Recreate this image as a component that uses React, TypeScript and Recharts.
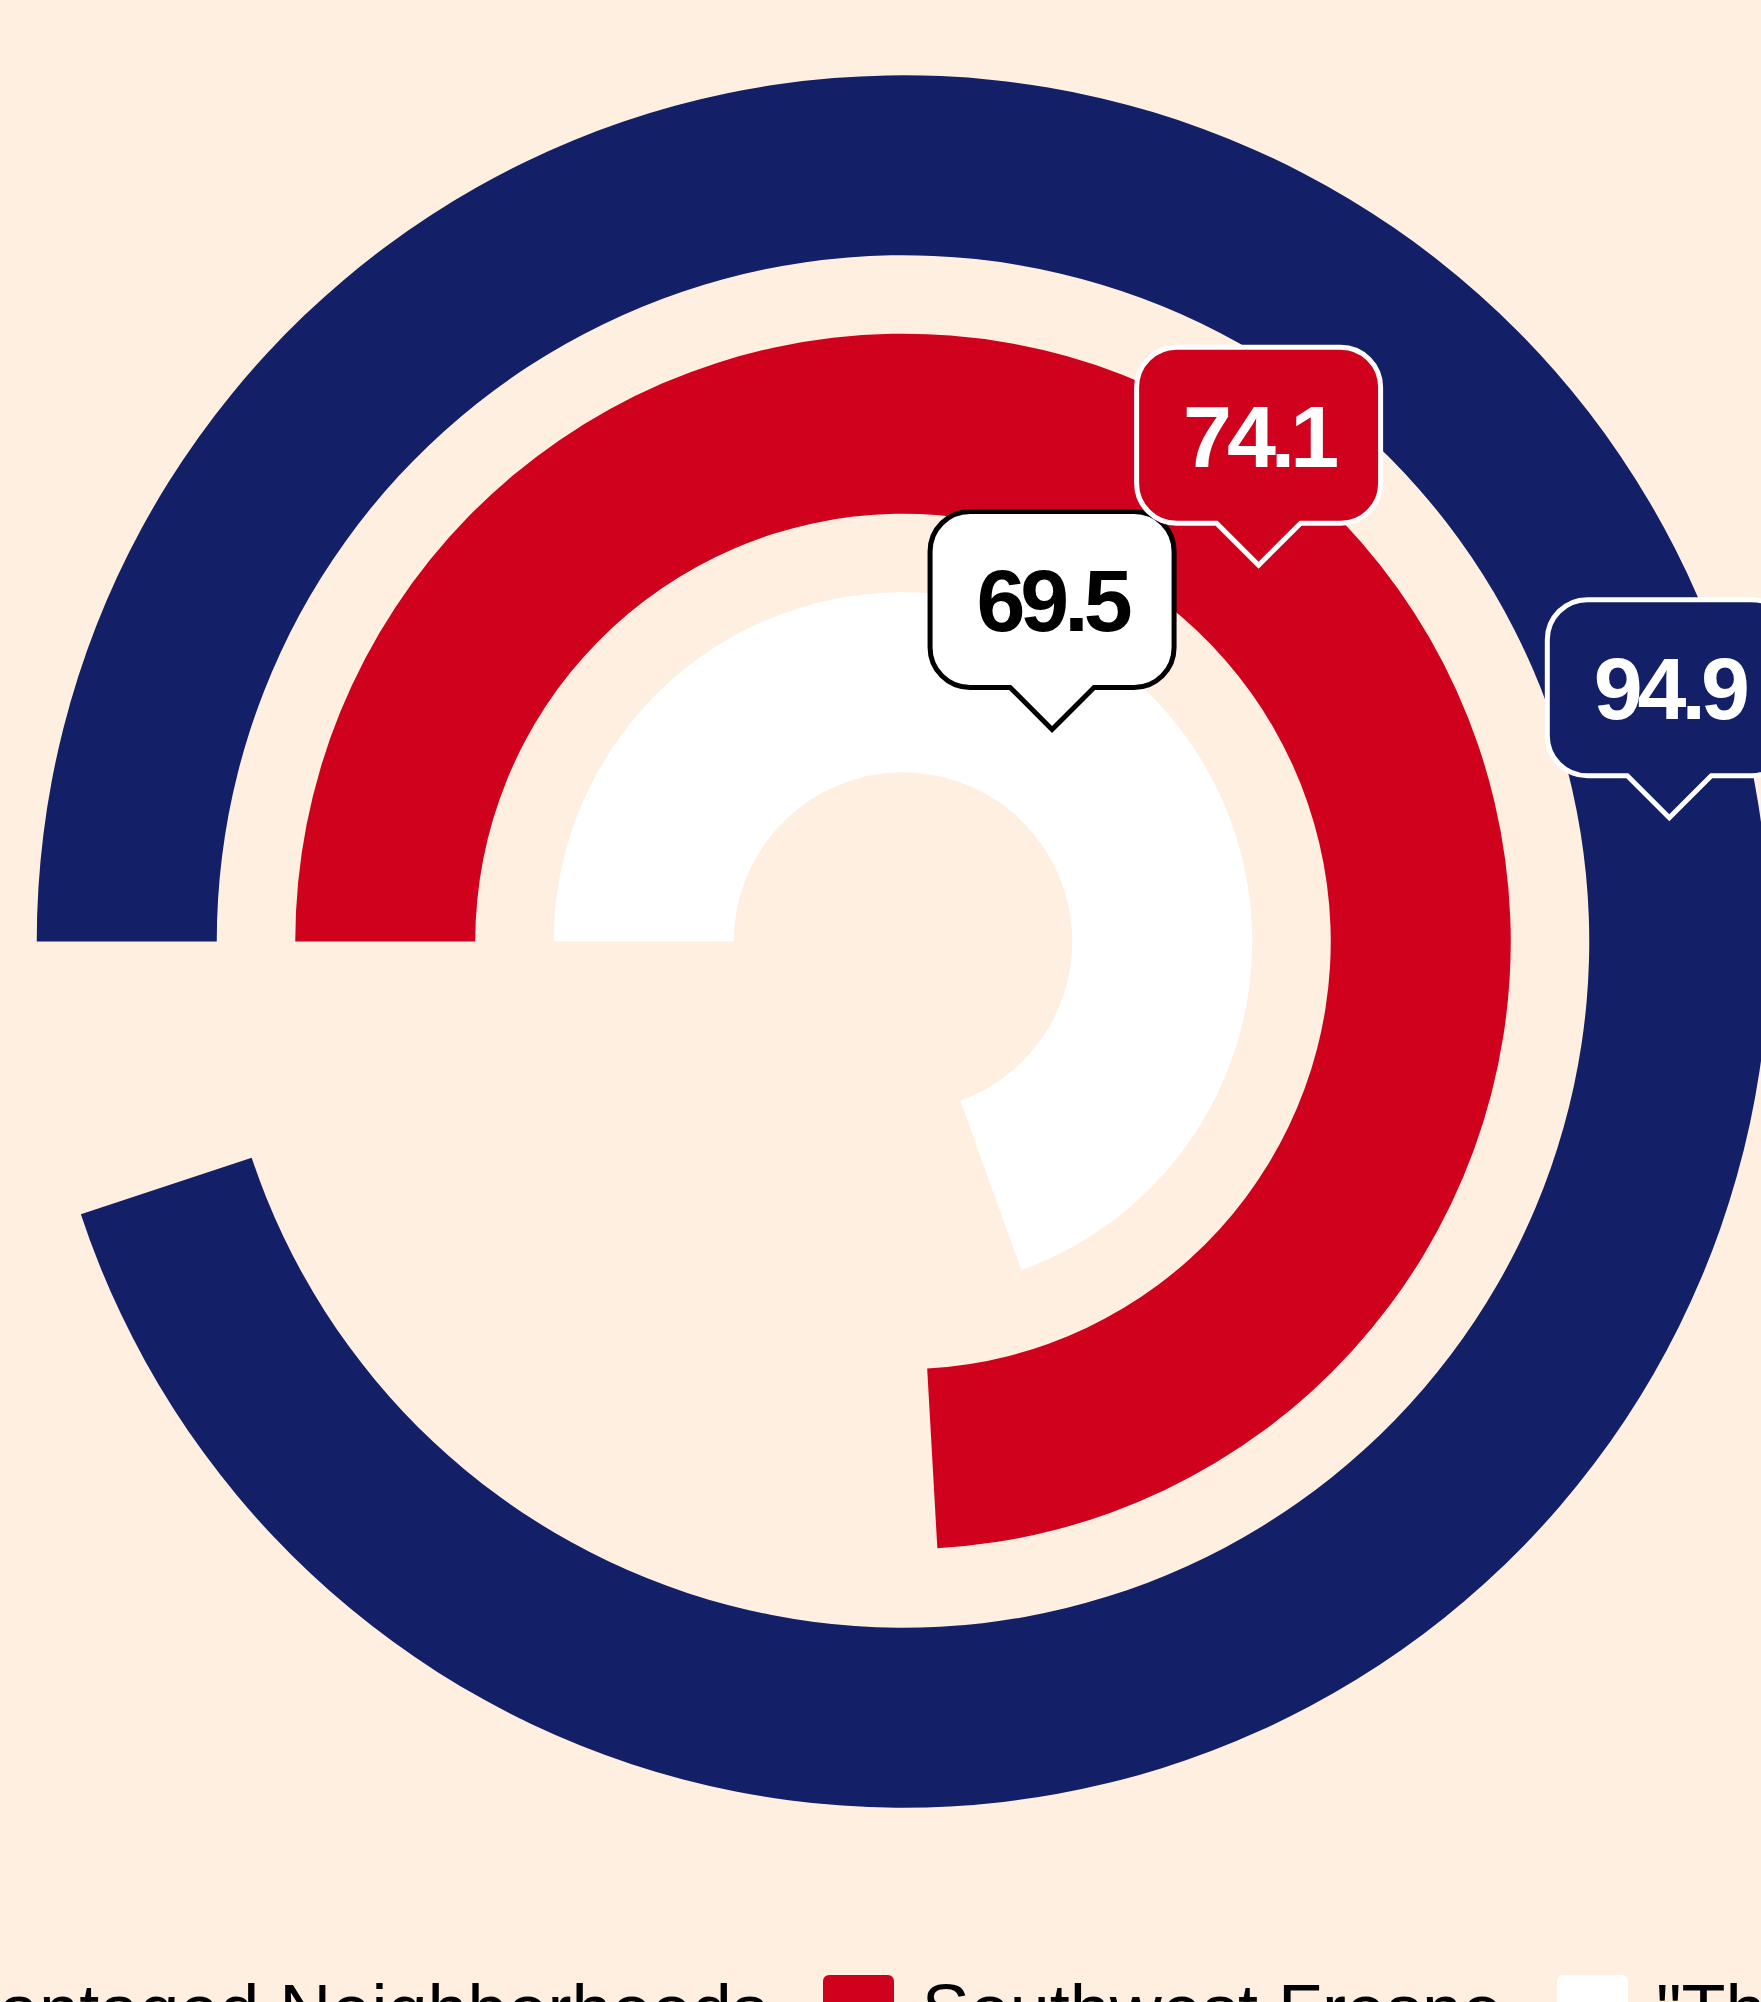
import { RadialBarChart, RadialBar, PolarAngleAxis, Legend, LabelList, Cell } from 'recharts';

// rings from the inside out
const CATEGORIES = ['"The Rest of Fresno"', 'Southwest Fresno', 'Disadvantaged Neighborhoods'];
const VALUES = [69.5, 74.1, 94.9];
const COLORS = ['#FFFFFF', '#CF011C', '#131F66'];
const LABEL_STROKES = ['#000000', '#FFFFFF', '#FFFFFF'];
const LABEL_TEXT = ['#000000', '#FFFFFF', '#FFFFFF'];
// legend lists the outer ring first
const LEGEND_ORDER = [2, 1, 0];

const BG = '#FEEFE1';
const FONT = '"Liberation Sans", Arial, Helvetica, sans-serif';

const data = CATEGORIES.map((name, i) => ({ name, value: VALUES[i] }));

const BOX_W = 244;
const BOX_H = 176;
const TIP = 42;
const CORNER = 40;

function Callout(props: any) {
  const { viewBox, value, index } = props;
  if (!viewBox || viewBox.innerRadius == null) return null;
  const { cx, cy, innerRadius, outerRadius, startAngle, endAngle } = viewBox;
  const mid = (startAngle + endAngle) / 2;
  const r = (innerRadius + outerRadius) / 2;
  const rad = (-mid * Math.PI) / 180;
  const x = cx + r * Math.cos(rad);
  const y = cy + r * Math.sin(rad);

  const bottom = y - TIP;
  const top = bottom - BOX_H;
  const l = x - BOX_W / 2;
  const rt = x + BOX_W / 2;
  const d = [
    `M ${x} ${y}`,
    `L ${x - TIP} ${bottom}`,
    `L ${l + CORNER} ${bottom}`,
    `A ${CORNER} ${CORNER} 0 0 1 ${l} ${bottom - CORNER}`,
    `L ${l} ${top + CORNER}`,
    `A ${CORNER} ${CORNER} 0 0 1 ${l + CORNER} ${top}`,
    `L ${rt - CORNER} ${top}`,
    `A ${CORNER} ${CORNER} 0 0 1 ${rt} ${top + CORNER}`,
    `L ${rt} ${bottom - CORNER}`,
    `A ${CORNER} ${CORNER} 0 0 1 ${rt - CORNER} ${bottom}`,
    `L ${x + TIP} ${bottom}`,
    'Z',
  ].join(' ');

  const fontSize = 88;
  return (
    <g>
      <path d={d} fill={COLORS[index]} stroke={LABEL_STROKES[index]} strokeWidth={5} strokeLinejoin="miter" />
      <text
        x={x}
        y={top + BOX_H / 2 + fontSize * 0.358}
        textAnchor="middle"
        fontFamily={FONT}
        fontWeight="bold"
        fontSize={fontSize}
        letterSpacing={-5}
        fill={LABEL_TEXT[index]}
      >
        {value}
      </text>
    </g>
  );
}

function LegendContent() {
  return (
    <div style={{ display: 'flex', alignItems: 'center', whiteSpace: 'nowrap', fontFamily: FONT, fontSize: 72, color: '#000' }}>
      {LEGEND_ORDER.map(i => (
        <div key={i} style={{ display: 'flex', alignItems: 'center', marginRight: 55 }}>
          <span style={{ display: 'inline-block', width: 71, height: 71, borderRadius: 6, background: COLORS[i], marginRight: 28 }} />
          <span>{CATEGORIES[i]}</span>
        </div>
      ))}
    </div>
  );
}

export default function App() {
  return (
    <div style={{ position: 'fixed', left: 0, top: 0, width: 1761, height: 2002, overflow: 'hidden', background: BG }}>
      <RadialBarChart
        width={1761}
        height={2002}
        data={data}
        cx={903}
        cy={941.5}
        innerRadius={130.25}
        outerRadius={905.75}
        barSize={180}
        startAngle={180}
        endAngle={-180}
        margin={{ top: 0, right: 0, bottom: 0, left: 0 }}
      >
        <PolarAngleAxis type="number" domain={[0, 100]} tick={false} axisLine={false} />
        <RadialBar dataKey="value" isAnimationActive={false} stroke="none">
          {data.map((entry, i) => (
            <Cell key={entry.name} fill={COLORS[i]} />
          ))}
          <LabelList dataKey="value" content={<Callout />} />
        </RadialBar>
        <Legend content={<LegendContent />} wrapperStyle={{ left: -320, top: 1969, width: 'auto' }} />
      </RadialBarChart>
    </div>
  );
}
